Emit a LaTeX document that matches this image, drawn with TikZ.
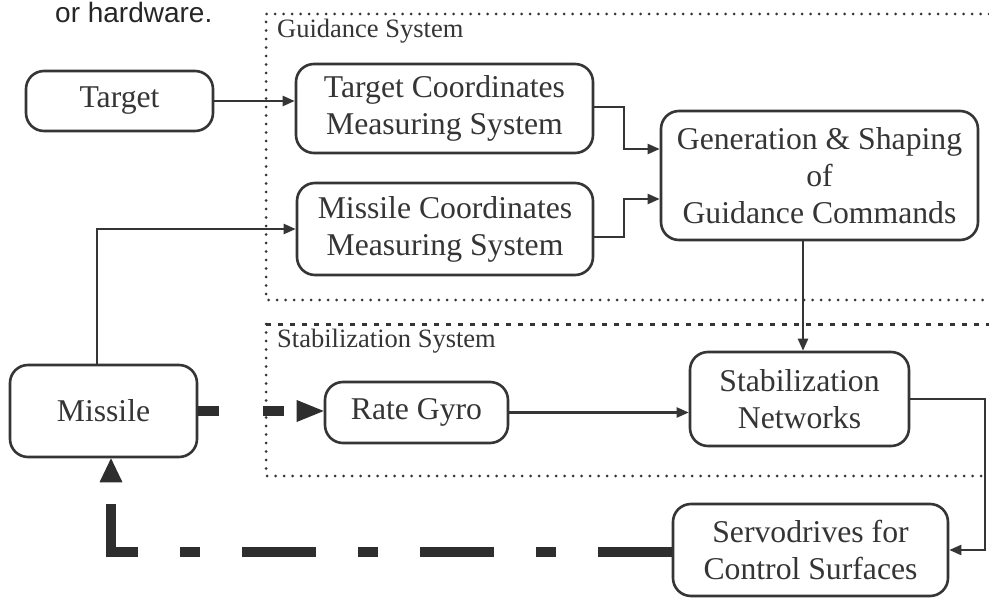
\documentclass[tikz,border=0pt]{standalone}
\usepackage{fontspec}
\setmainfont{Liberation Serif}
\newfontfamily\hwsans{Liberation Sans}
\usetikzlibrary{arrows.meta}
\definecolor{inkgray}{HTML}{353535}
\definecolor{heavygray}{HTML}{2E2E2E}
\definecolor{pagetext}{HTML}{262626}
\newcommand\blkfont{\fontsize{31.7pt}{37pt}\selectfont}
\newcommand\regfont{\fontsize{26.5pt}{30pt}\selectfont}
\begin{document}
\begin{tikzpicture}[x=1pt,y=-1pt,
  block/.style={draw=inkgray, line width=2.6pt, rounded corners=18pt,
    inner sep=0pt, align=center, text=inkgray, font=\blkfont},
  flow/.style={draw=inkgray, line width=2.2pt,
    -{Triangle[length=12pt,width=10pt]}},
  heavy/.style={draw=heavygray, line width=10pt, line cap=butt},
  regionline/.style={draw=inkgray, line width=3pt, line cap=round,
    dash pattern=on 0pt off 8.5pt},
  regiondash/.style={draw=inkgray, line width=3pt,
    dash pattern=on 5pt off 7pt},
  regionlabel/.style={anchor=base west, inner sep=0pt, text=inkgray,
    font=\regfont}
]
\fill[white] (0,0) rectangle (989,599);
\useasboundingbox (0,0) rectangle (989,599);

% closing words of the preceding paragraph
\node[anchor=base west, inner sep=0pt, text=pagetext,
  font=\hwsans\fontsize{28pt}{34pt}\selectfont] (hw) at (55,22.5) {or hardware.};

% dotted regions
\draw[regionline] (989,14) -- (266,14) -- (266,300) -- (989,300);
\draw[regiondash] (266,324) -- (989,324);
\draw[regionline] (266,324) -- (266,476) -- (989,476);
\node[regionlabel] (guidlbl) at (277,38) {Guidance System};
\node[regionlabel] (stablbl) at (277,347) {Stabilization System};

% blocks
\node[block, minimum width=187, minimum height=60] (target) at (119.5,101) {Target};
\node[block, minimum width=297, minimum height=89] (tcms) at (444.5,108.5)
  {Target Coordinates\\Measuring System};
\node[block, minimum width=296, minimum height=92] (mcms) at (445,229)
  {Missile Coordinates\\Measuring System};
\node[block, minimum width=317, minimum height=129] (gen) at (819.5,175.5)
  {Generation \& Shaping\\of\\Guidance Commands};
\node[block, minimum width=187, minimum height=92] (missile) at (103.5,411) {Missile};
\node[block, minimum width=183, minimum height=61] (gyro) at (416.5,412.5) {Rate Gyro};
\node[block, minimum width=219, minimum height=94] (stabnet) at (799.5,399)
  {Stabilization\\Networks};
\node[block, minimum width=275, minimum height=92] (servo) at (810.5,550)
  {Servodrives for\\Control Surfaces};

% signal connectors
\draw[flow] (target.east) -- (target.east -| tcms.west);
\draw[flow] ([yshift=1.5pt]tcms.east) -- ++(30,0) |- ([yshift=26.5pt]gen.west);
\draw[flow] ([yshift=-8pt]mcms.east) -- ++(30,0) |- ([yshift=-23.5pt]gen.west);
\draw[flow] ([xshift=-6.5pt]missile.north) |- (mcms.west);
\coordinate (gdown) at ([xshift=3.5pt]stabnet.north);
\draw[flow] (gdown |- gen.south) -- (gdown);
\draw[flow] (gyro.east) -- (gyro.east -| stabnet.west);
\draw[flow] (stabnet.east) -- ++(75,0) |- (servo.east);

% physical links
\draw[heavy, dash pattern=on 21pt off 44pt,
  -{Triangle[length=27pt,width=22pt,line width=0pt]}]
  (missile.east) -- (missile.east -| gyro.west);
\draw[heavy, dash pattern=on 74pt off 42pt on 20pt off 42pt,
  -{Triangle[length=24pt,width=23pt,line width=0pt]}]
  ([yshift=-1.5pt]servo.west) -| ([xshift=7.5pt]missile.south);
\end{tikzpicture}
\end{document}
